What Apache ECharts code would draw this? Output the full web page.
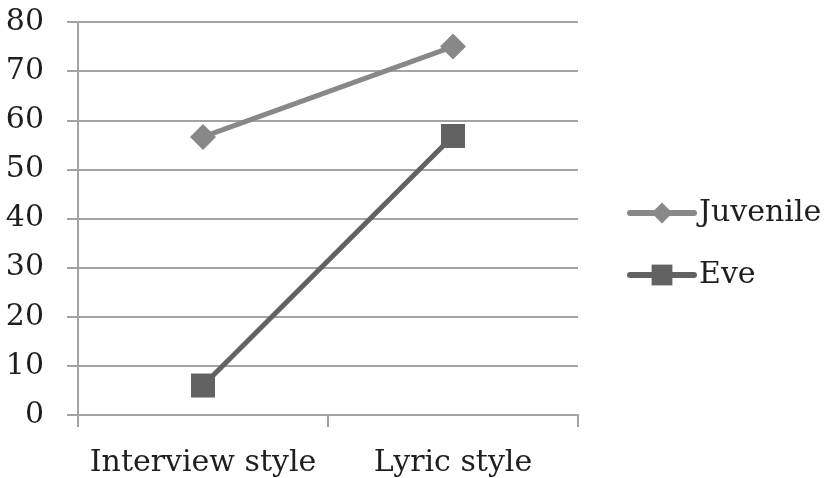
<!DOCTYPE html>
<html>
<head>
<meta charset="utf-8">
<script src="https://cdn.jsdelivr.net/npm/echarts@6/dist/echarts.min.js"></script>
<style>
  html, body { margin: 0; padding: 0; background: #fff; }
  #chart { width: 825px; height: 478px; }
</style>
</head>
<body>
<div id="chart"></div>
<script>
// Scores by presentation style
const categories = ['Interview style', 'Lyric style'];
const juvenile = [56.6, 75];
const eve = [6, 56.8];
const yTicks = { min: 0, max: 80, interval: 10 };

const FONT = '"DejaVu Serif", "Liberation Serif", serif';
const GRID_GREY = '#a3a3a3';
const TEXT = '#1e1e1e';

const chart = echarts.init(document.getElementById('chart'), null, { renderer: 'canvas' });
chart.setOption({
  backgroundColor: '#ffffff',
  animation: false,
  grid: { left: 78, right: 247, top: 22, bottom: 63 },
  legend: {
    orient: 'vertical',
    left: 622,
    top: 193,
    itemWidth: 64,
    itemHeight: 26,
    itemGap: 32,
    itemTextGap: 5,
    lineStyle: { width: 6, cap: 'round' },
    textStyle: { fontFamily: FONT, fontSize: 30, color: TEXT, padding: [0, 0, 0, 0] },
    data: ['Juvenile', 'Eve']
  },
  xAxis: {
    type: 'category',
    data: categories,
    boundaryGap: true,
    axisLine: { lineStyle: { color: GRID_GREY, width: 2 } },
    axisTick: { show: true, interval: 0, length: 12, lineStyle: { color: GRID_GREY, width: 2 } },
    axisLabel: { interval: 0, fontFamily: FONT, fontSize: 30, color: TEXT, margin: 33 }
  },
  yAxis: {
    type: 'value',
    min: yTicks.min,
    max: yTicks.max,
    interval: yTicks.interval,
    axisLine: { show: true, lineStyle: { color: GRID_GREY, width: 2 } },
    axisTick: { show: true, length: 11, lineStyle: { color: GRID_GREY, width: 2 } },
    splitLine: { lineStyle: { color: GRID_GREY, width: 2 } },
    axisLabel: { fontFamily: FONT, fontSize: 30, color: TEXT, margin: 34 }
  },
  series: [
    {
      name: 'Juvenile',
      type: 'line',
      data: juvenile,
      symbol: 'diamond',
      symbolSize: 26,
      lineStyle: { color: '#888888', width: 5 },
      itemStyle: { color: '#888888' }
    },
    {
      name: 'Eve',
      type: 'line',
      data: eve,
      symbol: 'rect',
      symbolSize: 24,
      lineStyle: { color: '#626262', width: 5 },
      itemStyle: { color: '#626262' }
    }
  ]
});
</script>
</body>
</html>
